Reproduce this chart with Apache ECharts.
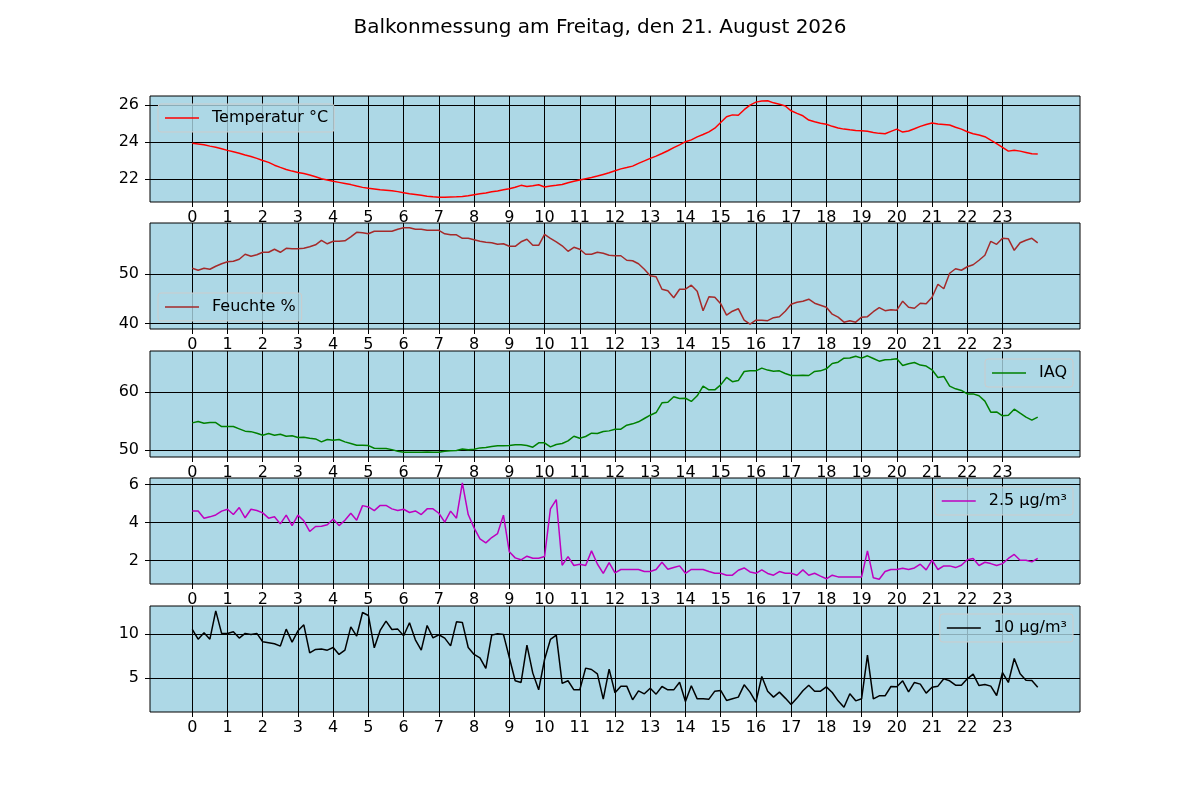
<!DOCTYPE html>
<html>
<head>
<meta charset="utf-8">
<title>Balkonmessung</title>
<script src="https://cdn.jsdelivr.net/npm/echarts@6/dist/echarts.min.js"></script>
<style>
  html, body { margin: 0; padding: 0; background: #fff; }
  #main { width: 1200px; height: 800px; }
</style>
</head>
<body>
<div id="main"></div>
<script>
// Messwerte alle 10 Minuten, 0:00 bis 24:00
var schrittMinuten = 10;
var stunden = [0, 1, 2, 3, 4, 5, 6, 7, 8, 9, 10, 11, 12, 13, 14, 15, 16, 17, 18, 19, 20, 21, 22, 23];

var temperatur = [
  23.93, 23.90, 23.85, 23.78, 23.72, 23.64,
  23.55, 23.48, 23.40, 23.30, 23.22, 23.12,
  23.00, 22.90, 22.75, 22.63, 22.52, 22.43,
  22.36, 22.30, 22.22, 22.12, 22.02, 21.95,
  21.88, 21.82, 21.76, 21.70, 21.62, 21.55,
  21.50, 21.46, 21.42, 21.40, 21.37, 21.32,
  21.26, 21.20, 21.16, 21.12, 21.07, 21.04,
  21.02, 21.02, 21.03, 21.04, 21.06, 21.10,
  21.15, 21.20, 21.25, 21.31, 21.36, 21.42,
  21.48, 21.56, 21.66, 21.60, 21.64, 21.69,
  21.57, 21.62, 21.66, 21.71, 21.80, 21.88,
  21.95, 22.02, 22.08, 22.16, 22.25, 22.34,
  22.45, 22.55, 22.62, 22.70, 22.85, 22.98,
  23.12, 23.24, 23.38, 23.53, 23.70, 23.85,
  24.02, 24.12, 24.28, 24.41, 24.55, 24.75,
  25.06, 25.37, 25.47, 25.45, 25.75, 26.00,
  26.16, 26.22, 26.23, 26.12, 26.05, 25.95,
  25.69, 25.55, 25.42, 25.19, 25.10, 25.02,
  24.96, 24.85, 24.76, 24.70, 24.66, 24.63,
  24.61, 24.58, 24.52, 24.47, 24.45, 24.58,
  24.70, 24.54, 24.60, 24.72, 24.85, 24.95,
  25.03, 24.98, 24.95, 24.92, 24.80, 24.70,
  24.56, 24.45, 24.38, 24.29, 24.10, 23.92,
  23.71, 23.51, 23.56, 23.51, 23.44, 23.37,
  23.35
];

var feuchte = [
  51.1, 50.7, 51.1, 50.9, 51.5, 52.0,
  52.4, 52.5, 52.9, 53.9, 53.5, 53.8,
  54.3, 54.3, 54.9, 54.3, 55.1, 55.0,
  55.0, 55.1, 55.4, 55.8, 56.7, 56.0,
  56.5, 56.5, 56.6, 57.4, 58.3, 58.2,
  58.0, 58.5, 58.5, 58.5, 58.5, 58.9,
  59.2, 59.2, 58.9, 58.9, 58.7, 58.7,
  58.7, 58.0, 57.8, 57.8, 57.1, 57.1,
  56.8, 56.5, 56.3, 56.2, 55.9, 56.0,
  55.5, 55.5, 56.4, 56.9, 55.7, 55.7,
  57.9, 57.1, 56.4, 55.6, 54.5, 55.3,
  54.9, 53.9, 53.9, 54.3, 54.1, 53.7,
  53.6, 53.6, 52.7, 52.6, 52.0, 50.9,
  49.6, 49.4, 46.9, 46.6, 45.2, 46.9,
  46.9, 47.7, 46.5, 42.6, 45.4, 45.3,
  44.0, 41.7, 42.5, 43.0, 40.7, 39.9,
  40.7, 40.7, 40.6, 41.2, 41.4, 42.5,
  43.9, 44.3, 44.5, 44.9, 44.1, 43.7,
  43.3, 41.9, 41.3, 40.3, 40.6, 40.3,
  41.3, 41.4, 42.4, 43.2, 42.6, 42.8,
  42.7, 44.5, 43.3, 43.1, 44.1, 44.0,
  45.3, 47.9, 47.0, 50.1, 51.0, 50.7,
  51.4, 51.8, 52.7, 53.7, 56.5, 55.9,
  57.1, 57.0, 54.7, 56.2, 56.7, 57.1,
  56.2
];

var iaq = [
  54.71, 54.94, 54.65, 54.77, 54.77, 54.08,
  54.08, 54.08, 53.68, 53.28, 53.20, 52.93,
  52.59, 52.87, 52.59, 52.76, 52.41, 52.50,
  52.18, 52.24, 52.07, 51.95, 51.44, 51.84,
  51.72, 51.84, 51.44, 51.15, 50.86, 50.86,
  50.80, 50.34, 50.29, 50.29, 50.10, 49.83,
  49.66, 49.66, 49.66, 49.66, 49.70, 49.66,
  49.66, 49.83, 49.89, 49.95, 50.20, 50.06,
  50.17, 50.40, 50.46, 50.63, 50.75, 50.75,
  50.80, 50.92, 50.92, 50.80, 50.52, 51.27,
  51.27, 50.57, 50.98, 51.15, 51.60, 52.41,
  52.07, 52.36, 52.93, 52.87, 53.22, 53.33,
  53.62, 53.62, 54.31, 54.54, 54.89, 55.46,
  56.03, 56.49, 58.16, 58.27, 59.20, 58.90,
  58.95, 58.40, 59.37, 61.03, 60.40, 60.40,
  61.26, 62.53, 61.80, 62.00, 63.56, 63.67,
  63.67, 64.14, 63.80, 63.60, 63.67, 63.22,
  62.87, 62.87, 62.93, 62.87, 63.56, 63.67,
  64.02, 64.94, 65.17, 65.86, 65.90, 66.20,
  65.86, 66.26, 65.80, 65.34, 65.57, 65.63,
  65.75, 64.60, 64.90, 65.10, 64.66, 64.50,
  63.85, 62.53, 62.70, 61.03, 60.57, 60.30,
  59.70, 59.70, 59.37, 58.45, 56.55, 56.60,
  55.92, 56.03, 57.07, 56.37, 55.69, 55.17,
  55.69
];

var pm25 = [
  4.61, 4.61, 4.23, 4.30, 4.40, 4.60,
  4.70, 4.42, 4.79, 4.25, 4.70, 4.63,
  4.51, 4.23, 4.30, 3.93, 4.39, 3.84,
  4.39, 4.09, 3.53, 3.79, 3.81, 3.88,
  4.19, 3.84, 4.12, 4.49, 4.12, 4.89,
  4.82, 4.63, 4.90, 4.90, 4.72, 4.63,
  4.70, 4.53, 4.61, 4.42, 4.72, 4.72,
  4.49, 4.02, 4.60, 4.23, 6.09, 4.42,
  3.72, 3.14, 2.93, 3.21, 3.42, 4.39,
  2.46, 2.14, 2.04, 2.23, 2.12, 2.12,
  2.21, 4.72, 5.21, 1.75, 2.21, 1.74,
  1.81, 1.74, 2.51, 1.82, 1.33, 1.89,
  1.35, 1.53, 1.53, 1.53, 1.53, 1.42,
  1.42, 1.53, 1.91, 1.54, 1.63, 1.72,
  1.33, 1.53, 1.53, 1.53, 1.42, 1.33,
  1.33, 1.23, 1.23, 1.49, 1.61, 1.40,
  1.33, 1.51, 1.32, 1.23, 1.42, 1.33,
  1.33, 1.23, 1.51, 1.23, 1.33, 1.18,
  1.04, 1.23, 1.14, 1.14, 1.14, 1.14,
  1.14, 2.51, 1.09, 1.02, 1.42, 1.53,
  1.53, 1.60, 1.53, 1.61, 1.81, 1.51,
  2.02, 1.53, 1.72, 1.72, 1.63, 1.75,
  2.04, 2.11, 1.74, 1.91, 1.84, 1.74,
  1.84, 2.11, 2.32, 2.02, 2.02, 1.93,
  2.12
];

var pm10 = [
  10.53, 9.43, 10.15, 9.43, 12.65, 10.08,
  10.08, 10.27, 9.55, 10.08, 9.97, 10.08,
  9.13, 9.02, 8.90, 8.64, 10.57, 9.09,
  10.38, 11.06, 7.88, 8.26, 8.30, 8.18,
  8.48, 7.69, 8.18, 10.83, 9.77, 12.46,
  12.12, 8.45, 10.42, 11.48, 10.53, 10.57,
  9.81, 11.29, 9.36, 8.18, 10.98, 9.58,
  9.93, 9.55, 8.67, 11.40, 11.33, 8.48,
  7.69, 7.31, 6.10, 9.89, 10.04, 9.97,
  7.35, 4.70, 4.51, 8.75, 5.57, 3.67,
  7.12, 9.40, 9.89, 4.40, 4.70, 3.67,
  3.67, 6.14, 5.98, 5.49, 2.61, 6.02,
  3.33, 4.09, 4.09, 2.54, 3.56, 3.22,
  3.86, 3.18, 4.05, 3.67, 3.67, 4.54,
  2.35, 4.13, 2.65, 2.65, 2.61, 3.52,
  3.60, 2.46, 2.65, 2.84, 4.24, 3.41,
  2.27, 5.19, 3.52, 2.84, 3.41, 2.73,
  2.00, 2.73, 3.56, 4.20, 3.52, 3.52,
  4.01, 3.37, 2.42, 1.70, 3.22, 2.42,
  2.65, 7.61, 2.65, 2.99, 2.99, 4.05,
  4.01, 4.70, 3.45, 4.51, 4.32, 3.30,
  3.97, 4.09, 4.92, 4.70, 4.20, 4.20,
  4.92, 5.45, 4.16, 4.28, 4.09, 3.03,
  5.64, 4.51, 7.23, 5.49, 4.77, 4.73,
  3.97
];

var tempTicks = [22, 24, 26];
var feuchteTicks = [40, 50];
var iaqTicks = [50, 60];
var pm25Ticks = [2, 4, 6];
var pm10Ticks = [5, 10];

var myChart = echarts.init(document.getElementById('main'));
var schrift = 'DejaVu Sans, sans-serif';

// Zeitachse in Stunden
function mitZeit(werte) {
  return werte.map(function (v, i) {
    return [i * schrittMinuten / 60, v];
  });
}

var panels = [
  { name: 'Temperatur °C', werte: temperatur, color: '#ff0000', ticks: tempTicks, top: 96,
    legend: { left: 158, top: 104 } },
  { name: 'Feuchte %', werte: feuchte, color: '#a52a2a', ticks: feuchteTicks, top: 223,
    legend: { left: 158, top: 293 } },
  { name: 'IAQ', werte: iaq, color: '#008000', ticks: iaqTicks, top: 351,
    legend: { right: 127, top: 359 } },
  { name: '2.5 µg/m³', werte: pm25, color: '#bf00bf', ticks: pm25Ticks, top: 478,
    legend: { right: 127, top: 487 } },
  { name: '10 µg/m³', werte: pm10, color: '#000000', ticks: pm10Ticks, top: 606,
    legend: { right: 127, top: 614 } }
];

var grids = [], xAxes = [], yAxes = [], series = [], legends = [];

panels.forEach(function (p, i) {
  grids.push({
    left: 150, width: 930, top: p.top, height: 106,
    show: true, backgroundColor: '#add8e6',
    borderColor: '#000', borderWidth: 1
  });
  xAxes.push({
    gridIndex: i, type: 'value', position: 'bottom', min: -1.2, max: 25.2,
    axisLine: { show: false, onZero: false },
    axisTick: { show: true, length: 5, customValues: stunden, lineStyle: { color: '#000' } },
    axisLabel: { customValues: stunden, color: '#000', fontSize: 16, margin: 8, fontFamily: schrift },
    splitLine: { show: true, lineStyle: { color: '#000', width: 1 } }
  });
  yAxes.push({
    gridIndex: i, type: 'value', position: 'left',
    min: function (v) { return v.min - 0.05 * (v.max - v.min); },
    max: function (v) { return v.max + 0.05 * (v.max - v.min); },
    axisLine: { show: false, onZero: false },
    axisTick: { show: true, length: 5, customValues: p.ticks, lineStyle: { color: '#000' } },
    axisLabel: { customValues: p.ticks, color: '#000', fontSize: 16, margin: 11, fontFamily: schrift },
    splitLine: { show: true, lineStyle: { color: '#000', width: 1 } }
  });
  series.push({
    name: p.name, type: 'line', xAxisIndex: i, yAxisIndex: i,
    data: mitZeit(p.werte), symbol: 'none', z: 3,
    lineStyle: { color: p.color, width: 1.5 },
    itemStyle: { color: p.color }
  });
  legends.push(Object.assign({
    data: [p.name], selectedMode: false, icon: 'rect',
    padding: [6, 6, 6, 7], itemWidth: 34, itemHeight: 1.5,
    backgroundColor: 'rgba(173, 216, 230, 0.8)',
    borderColor: '#cccccc', borderWidth: 1, borderRadius: 3,
    textStyle: { color: '#000', fontSize: 16, fontFamily: schrift, padding: [0, 0, 0, 8] }
  }, p.legend));
});

var option = {
  animation: false,
  title: {
    text: 'Balkonmessung am Freitag, den 21. August 2026',
    left: 'center', top: 13,
    textStyle: { color: '#000', fontSize: 20, fontWeight: 'normal', fontFamily: schrift }
  },
  legend: legends,
  grid: grids,
  xAxis: xAxes,
  yAxis: yAxes,
  series: series
};
myChart.setOption(option);
</script>
</body>
</html>
